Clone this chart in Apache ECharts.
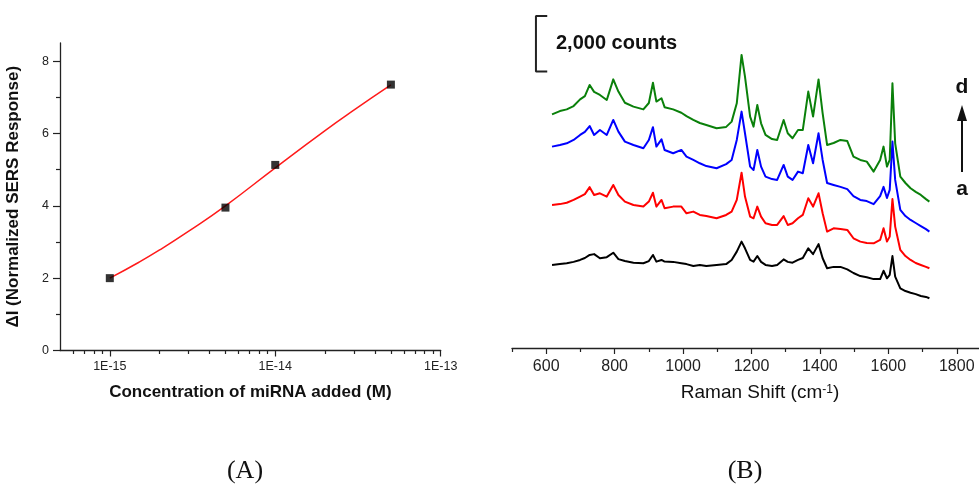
<!DOCTYPE html>
<html>
<head>
<meta charset="utf-8">
<title>miRNA SERS response and Raman spectra</title>
<script src="https://cdn.jsdelivr.net/npm/echarts@6/dist/echarts.min.js"></script>
<style>
  html, body { margin: 0; padding: 0; background: #fff; }
  #chart { width: 979px; height: 488px; }
</style>
</head>
<body>
<div id="chart"></div>
<script>
// ---------- Panel A: SERS response vs. miRNA concentration ----------
const concentration = [1e-15, 5e-15, 1e-14, 5e-14];          // M
const deltaI = [2.0, 3.95, 5.13, 7.35];                       // normalized SERS response

// fitted calibration curve
const fitConcentration = [1e-15, 1.5e-15, 2e-15, 3e-15, 5e-15, 1e-14, 2e-14, 3e-14, 5e-14];
const fitDeltaI = [2.0, 2.44, 2.78, 3.30, 4.00, 5.05, 6.08, 6.65, 7.34];

const concMajorTicks = [1e-15, 1e-14, 1e-13];
const concMinorTicks = [6e-16, 7e-16, 8e-16, 9e-16,
  2e-15, 3e-15, 4e-15, 5e-15, 6e-15, 7e-15, 8e-15, 9e-15,
  2e-14, 3e-14, 4e-14, 5e-14, 6e-14, 7e-14, 8e-14, 9e-14];
const concRange = [5e-16, 1e-13];
const deltaIMajorTicks = [0, 2, 4, 6, 8];
const deltaIMinorTicks = [1, 3, 5, 7];

// ---------- Panel B: stacked Raman spectra (a -> d) ----------
const wavenumber = [617,640,660,680,699,713,727,740,757,777,796,811,830,855,884,900,912,922,937,946,
  971,995,1010,1030,1049,1068,1098,1126,1142,1157,1171,1181,1196,1206,1217,1228,1241,1260,1275,1294,
  1306,1320,1336,1350,1366,1380,1396,1408,1421,1440,1460,1480,1498,1518,1537,1557,1576,1586,1596,1604,
  1612,1620,1635,1650,1665,1680,1695,1710,1720];

const spectrumA = [2990,3020,3050,3100,3170,3240,3350,3380,3230,3270,3430,3200,3130,3070,3050,3130,3350,3110,3170,3110,
  3100,3050,3020,2950,2990,2950,2990,3020,3170,3470,3830,3590,3170,3110,3310,3100,2990,2950,2990,3190,
  3100,3070,3170,3240,3590,3380,3740,3230,2870,2920,2920,2830,2700,2590,2550,2480,2480,2780,2510,2630,
  3310,2570,2150,2050,1990,1940,1870,1840,1790];
const spectrumB = [5150,5180,5230,5330,5450,5540,5790,5510,5570,5450,5870,5510,5270,5150,5090,5270,5590,5090,5330,5030,
  5090,5090,4850,4910,4790,4750,4670,4790,4910,5330,6310,5450,4730,4670,5090,4730,4490,4430,4430,4750,
  4430,4490,4670,4790,5390,5090,5570,4850,4190,4310,4280,4250,3950,3830,3780,3770,3890,4310,3830,4010,
  5360,4370,3530,3310,3170,3060,2990,2920,2870];
const spectrumC = [7250,7310,7370,7490,7670,7780,7990,7670,7850,7670,8210,7790,7430,7310,7190,7490,7950,7250,7510,7130,
  7010,7130,6890,6770,6650,6550,6470,6620,6770,7490,8510,7730,6530,6410,7130,6530,6170,6080,6050,6590,
  6170,6050,6350,6290,7310,6650,7730,6770,5940,5870,5800,5720,5470,5330,5290,5180,5470,5800,5400,5690,
  7430,6050,4970,4750,4610,4500,4390,4280,4190];
const spectrumD = [8410,8530,8590,8710,8950,9070,9470,9220,9110,8930,9670,9230,8830,8690,8590,8820,9550,8870,8990,8670,
  8590,8470,8350,8210,8100,8030,7910,7960,8150,8810,10550,9770,8330,7970,8750,8090,7670,7520,7490,8210,
  7730,7550,7850,7850,9230,8330,9670,8450,7310,7380,7490,7450,6890,6770,6710,6350,6770,7250,6530,6770,
  9530,7370,6170,5940,5750,5620,5510,5360,5270];

const ramanMajorTicks = [600, 800, 1000, 1200, 1400, 1600, 1800];
const ramanMinorTicks = [500, 700, 900, 1100, 1300, 1500, 1700];

// intensity scale bar
const scaleBarCounts = 2000;
const scaleBarBase = 9950;
const scaleBarWave = [570, 603];

// ---------- build ----------
const log10 = v => Math.log10(v);
const pairs = (xs, ys, fx) => xs.map((x, i) => [fx ? fx(x) : x, ys[i]]);

const AXIS_COLOR = '#222';
const FONT = '"Liberation Sans", Arial, sans-serif';

const chart = echarts.init(document.getElementById('chart'), null, { renderer: 'canvas' });

const option = {
  animation: false,
  backgroundColor: '#fff',
  textStyle: { fontFamily: FONT, color: '#111' },
  grid: [
    { left: 60, top: 43, width: 380.7, height: 307.5 },
    { left: 512, top: 0, width: 467, height: 348 }
  ],
  xAxis: [
    {
      gridIndex: 0, type: 'value', position: 'bottom',
      min: log10(concRange[0]), max: log10(concRange[1]),
      axisLine: { show: true, onZero: false, lineStyle: { color: AXIS_COLOR, width: 1.3 } },
      axisTick: { show: true, customValues: concMajorTicks.map(log10), length: 6, lineStyle: { color: AXIS_COLOR, width: 1.2 } },
      axisLabel: {
        customValues: concMajorTicks.map(log10),
        formatter: v => '1E' + Math.round(v),
        fontSize: 12.5, color: '#222', margin: 10
      },
      splitLine: { show: false },
      name: 'Concentration of miRNA added (M)',
      nameLocation: 'middle', nameGap: 33,
      nameTextStyle: { fontWeight: 'bold', fontSize: 17, color: '#111' }
    },
    {
      gridIndex: 0, type: 'value', position: 'bottom',
      min: log10(concRange[0]), max: log10(concRange[1]),
      axisLine: { show: false, onZero: false },
      axisTick: { show: true, customValues: concMinorTicks.map(log10), length: 3.5, lineStyle: { color: AXIS_COLOR, width: 1.2 } },
      axisLabel: { show: false },
      splitLine: { show: false }
    },
    {
      gridIndex: 1, type: 'value', position: 'bottom',
      min: 500, max: 1865,
      axisLine: { show: true, onZero: false, lineStyle: { color: AXIS_COLOR, width: 1.3 } },
      axisTick: { show: true, customValues: ramanMajorTicks, length: 6, lineStyle: { color: AXIS_COLOR, width: 1.2 } },
      axisLabel: { customValues: ramanMajorTicks, formatter: v => String(v), fontSize: 16, color: '#222', margin: 11 },
      splitLine: { show: false }
    },
    {
      gridIndex: 1, type: 'value', position: 'bottom',
      min: 500, max: 1865,
      axisLine: { show: false, onZero: false },
      axisTick: { show: true, customValues: ramanMinorTicks, length: 4, lineStyle: { color: AXIS_COLOR, width: 1.2 } },
      axisLabel: { show: false },
      splitLine: { show: false }
    }
  ],
  yAxis: [
    {
      gridIndex: 0, type: 'value', position: 'left', min: 0, max: 8.5,
      axisLine: { show: true, onZero: false, lineStyle: { color: AXIS_COLOR, width: 1.3 } },
      axisTick: { show: true, customValues: deltaIMajorTicks, length: 7, lineStyle: { color: AXIS_COLOR, width: 1.2 } },
      axisLabel: { customValues: deltaIMajorTicks, fontSize: 12.5, color: '#222', margin: 11 },
      splitLine: { show: false },
      name: 'ΔI (Normalized SERS Response)',
      nameLocation: 'middle', nameGap: 38,
      nameTextStyle: { fontWeight: 'bold', fontSize: 17, color: '#111' }
    },
    {
      gridIndex: 0, type: 'value', position: 'left', min: 0, max: 8.5,
      axisLine: { show: false, onZero: false },
      axisTick: { show: true, customValues: deltaIMinorTicks, length: 4, lineStyle: { color: AXIS_COLOR, width: 1.2 } },
      axisLabel: { show: false },
      splitLine: { show: false }
    },
    {
      gridIndex: 1, type: 'value', min: 0, max: 12528, show: false
    }
  ],
  series: [
    {
      name: 'fit', type: 'line', xAxisIndex: 0, yAxisIndex: 0,
      data: pairs(fitConcentration, fitDeltaI, log10),
      smooth: true, showSymbol: false, silent: true,
      lineStyle: { color: '#ff1a1a', width: 1.5 }
    },
    {
      name: 'measured', type: 'scatter', xAxisIndex: 0, yAxisIndex: 0,
      data: pairs(concentration, deltaI, log10),
      symbol: 'rect', symbolSize: 8,
      itemStyle: { color: '#000' }, z: 5
    },
    ...[
      [spectrumA, '#000000'],
      [spectrumB, '#ff0000'],
      [spectrumC, '#0000ff'],
      [spectrumD, '#0a800a']
    ].map(([ys, c]) => ({
      type: 'line', xAxisIndex: 2, yAxisIndex: 2,
      data: pairs(wavenumber, ys),
      showSymbol: false, silent: true,
      lineStyle: { color: c, width: 2, join: 'round' }
    })),
    {
      name: 'scale bar', type: 'line', xAxisIndex: 2, yAxisIndex: 2,
      data: [
        [scaleBarWave[1], scaleBarBase + scaleBarCounts],
        [scaleBarWave[0], scaleBarBase + scaleBarCounts],
        [scaleBarWave[0], scaleBarBase],
        [scaleBarWave[1], scaleBarBase]
      ],
      showSymbol: false, silent: true,
      lineStyle: { color: '#222', width: 2 }
    }
  ],
  graphic: [
    {
      type: 'text', x: 556, y: 43,
      style: { text: '2,000 counts', font: 'bold 20px ' + FONT, fill: '#111', align: 'left', verticalAlign: 'middle' }
    },
    {
      type: 'text', x: 760, y: 393,
      style: {
        text: '{a|Raman Shift (cm}{s|-1}{a|)}',
        align: 'center', verticalAlign: 'middle',
        rich: {
          a: { font: '19px ' + FONT, fill: '#111' },
          s: { font: '12px ' + FONT, fill: '#111', verticalAlign: 'top' }
        }
      }
    },
    {
      type: 'text', x: 962, y: 87,
      style: { text: 'd', font: 'bold 21px ' + FONT, fill: '#111', align: 'center', verticalAlign: 'middle' }
    },
    {
      type: 'text', x: 962, y: 189,
      style: { text: 'a', font: 'bold 21px ' + FONT, fill: '#111', align: 'center', verticalAlign: 'middle' }
    },
    {
      type: 'line', shape: { x1: 962, y1: 172, x2: 962, y2: 118 },
      style: { stroke: '#111', lineWidth: 2 }
    },
    {
      type: 'polygon', shape: { points: [[962, 105], [957, 121], [967, 121]] },
      style: { fill: '#111' }
    },
    {
      type: 'text', x: 245, y: 471,
      style: { text: '(A)', font: '26px "Liberation Serif", "Times New Roman", serif', fill: '#111', align: 'center', verticalAlign: 'middle' }
    },
    {
      type: 'text', x: 745, y: 471,
      style: { text: '(B)', font: '26px "Liberation Serif", "Times New Roman", serif', fill: '#111', align: 'center', verticalAlign: 'middle' }
    }
  ]
};

chart.setOption(option);
</script>
</body>
</html>
